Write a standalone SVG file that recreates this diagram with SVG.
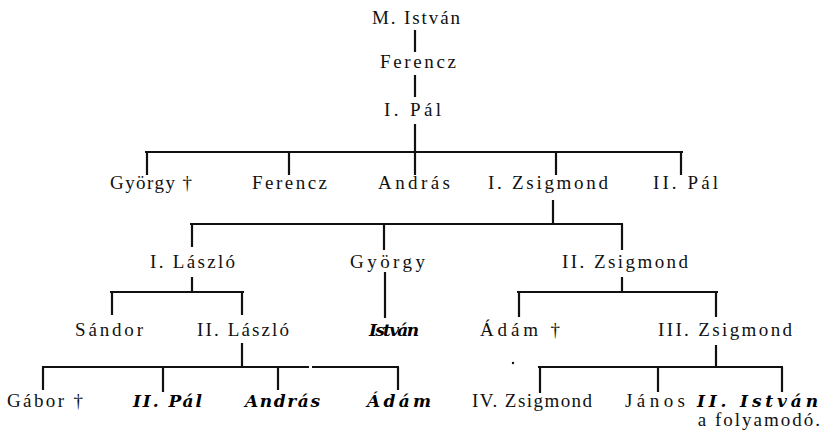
<svg xmlns="http://www.w3.org/2000/svg" width="824" height="434" viewBox="0 0 824 434">
<style>
.t{font-family:"Liberation Serif","DejaVu Serif",serif;font-size:19px;fill:#111}
.i{font-family:"DejaVu Serif","Liberation Serif",serif;font-size:17px;font-style:italic;font-weight:bold}
#connectors line{stroke:#111;stroke-width:2.2;stroke-linecap:butt}
#connectors .h{stroke-width:2}
</style>
<rect width="824" height="434" fill="#fff"/>
<g id="connectors">
  <line x1="415" y1="30" x2="415" y2="52"/>
  <line x1="415" y1="75" x2="415" y2="97"/>
  <line x1="415" y1="124" x2="415" y2="175"/>
  <line class="h" x1="145" y1="152" x2="683" y2="152"/>
  <line x1="147" y1="152" x2="147" y2="175"/>
  <line x1="289" y1="152" x2="289" y2="175"/>
  <line x1="556" y1="152" x2="556" y2="175"/>
  <line x1="681" y1="152" x2="681" y2="175"/>
  <line x1="553" y1="200" x2="553" y2="224"/>
  <line class="h" x1="190" y1="224" x2="623" y2="224"/>
  <line x1="192" y1="224" x2="192" y2="247"/>
  <line x1="384" y1="224" x2="384" y2="250"/>
  <line x1="622" y1="224" x2="622" y2="250"/>
  <line x1="192" y1="277" x2="192" y2="292"/>
  <line class="h" x1="110" y1="292" x2="244" y2="292"/>
  <line x1="112" y1="292" x2="112" y2="315"/>
  <line x1="242" y1="292" x2="242" y2="315"/>
  <line x1="385" y1="272" x2="385" y2="318"/>
  <line x1="622" y1="277" x2="622" y2="292"/>
  <line class="h" x1="517" y1="292" x2="718" y2="292"/>
  <line x1="519" y1="292" x2="519" y2="317"/>
  <line x1="716" y1="292" x2="716" y2="317"/>
  <line x1="242" y1="343" x2="242" y2="367"/>
  <line class="h" x1="42" y1="367" x2="309" y2="367"/>
  <line class="h" x1="312" y1="367" x2="399" y2="367"/>
  <line x1="43" y1="367" x2="43" y2="390"/>
  <line x1="163" y1="367" x2="163" y2="392"/>
  <line x1="278" y1="367" x2="278" y2="390"/>
  <line x1="398" y1="367" x2="398" y2="390"/>
  <line x1="716" y1="345" x2="716" y2="367"/>
  <line class="h" x1="538" y1="367" x2="783" y2="367"/>
  <line x1="540" y1="367" x2="540" y2="393"/>
  <line x1="658" y1="367" x2="658" y2="392"/>
  <line x1="782" y1="367" x2="782" y2="392"/>
</g>
<circle cx="513" cy="363" r="1.2" fill="#111"/>
<g id="n-m-istvan"><text class="t" x="372" y="24" textLength="88" lengthAdjust="spacing">M. István</text></g>
<g id="n-ferencz1"><text class="t" x="380" y="68" textLength="76" lengthAdjust="spacing">Ferencz</text></g>
<g id="n-i-pal"><text class="t" x="384" y="116" textLength="57" lengthAdjust="spacing">I. Pál</text></g>
<g id="n-gyorgy1"><text class="t" x="110" y="189" textLength="82" lengthAdjust="spacing">György †</text></g>
<g id="n-ferencz2"><text class="t" x="252" y="189" textLength="75" lengthAdjust="spacing">Ferencz</text></g>
<g id="n-andras1"><text class="t" x="378" y="189" textLength="72" lengthAdjust="spacing">András</text></g>
<g id="n-i-zsigmond"><text class="t" x="488" y="189" textLength="120" lengthAdjust="spacing">I. Zsigmond</text></g>
<g id="n-ii-pal1"><text class="t" x="653" y="189" textLength="65" lengthAdjust="spacing">II. Pál</text></g>
<g id="n-i-laszlo"><text class="t" x="150" y="268" textLength="85" lengthAdjust="spacing">I. László</text></g>
<g id="n-gyorgy2"><text class="t" x="350" y="268" textLength="75" lengthAdjust="spacing">György</text></g>
<g id="n-ii-zsigmond"><text class="t" x="562" y="268" textLength="126" lengthAdjust="spacing">II. Zsigmond</text></g>
<g id="n-sandor"><text class="t" x="75" y="336" textLength="68" lengthAdjust="spacing">Sándor</text></g>
<g id="n-ii-laszlo"><text class="t" x="197" y="336" textLength="92" lengthAdjust="spacing">II. László</text></g>
<g id="n-istvan"><text class="i" x="369" y="336" textLength="50" lengthAdjust="spacing">István</text></g>
<g id="n-adam1"><text class="t" x="480" y="336" textLength="80" lengthAdjust="spacing">Ádám †</text></g>
<g id="n-iii-zsigmond"><text class="t" x="658" y="336" textLength="134" lengthAdjust="spacing">III. Zsigmond</text></g>
<g id="n-gabor"><text class="t" x="7" y="407" textLength="76" lengthAdjust="spacing">Gábor †</text></g>
<g id="n-ii-pal2"><text class="i" x="133" y="407" textLength="69" lengthAdjust="spacing">II. Pál</text></g>
<g id="n-andras2"><text class="i" x="245" y="407" textLength="75" lengthAdjust="spacing">András</text></g>
<g id="n-adam2"><text class="i" x="367" y="407" textLength="64" lengthAdjust="spacing">Ádám</text></g>
<g id="n-iv-zsigmond"><text class="t" x="472" y="407" textLength="120" lengthAdjust="spacing">IV. Zsigmond</text></g>
<g id="n-janos"><text class="t" x="625" y="407" textLength="60" lengthAdjust="spacing">János</text></g>
<g id="n-ii-istvan"><text class="i" x="697" y="407" textLength="121" lengthAdjust="spacing">II. István</text><text class="t" x="822" y="426" text-anchor="end" letter-spacing="2">a folyamodó.</text></g>
</svg>
